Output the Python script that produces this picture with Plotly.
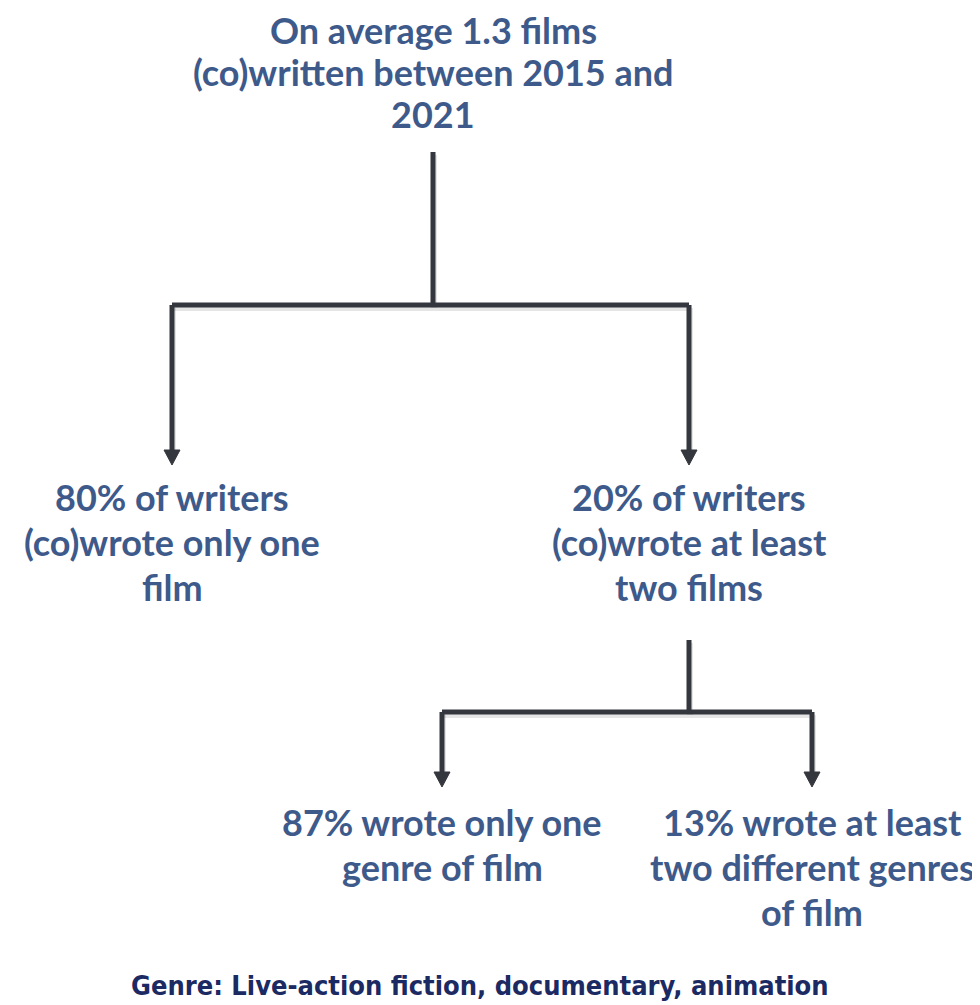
import plotly.graph_objects as go

# node texts (one entry per node, lines split for exact placement)
root_lines = ["On average 1.3 films", "(co)written between 2015 and", "2021"]
level1_labels = [
    ["80% of writers", "(co)wrote only one", "film"],
    ["20% of writers", "(co)wrote at least", "two films"],
]
level2_labels = [
    ["87% wrote only one", "genre of film"],
    ["13% wrote at least", "two different genres", "of film"],
]
footer_text = "Genre: Live-action fiction, documentary, animation"

# layout (pixels, y down); page body has an 8px margin, so shift the ranges
W, H = 980, 1005
OFF = 8
TEXT_COLOR = "#3d5a8b"
LINE_COLOR = "#35373e"
FONT = "Lato, 'Open Sans', sans-serif"
FS = 36
LH = 45

root_x, root_y0 = 433, 30
l1_x = [172, 689]
l1_y0 = 497
l2_x = [442, 812]
l2_y0 = 822

fig = go.Figure()
shapes = []
annotations = []


def add_lines(x, y0, lines, lh=LH):
    for i, t in enumerate(lines):
        annotations.append(dict(
            x=x, y=y0 + i * lh, text=f"<b>{t}</b>", showarrow=False,
            xanchor="center", yanchor="middle",
            font=dict(family=FONT, size=FS, color=TEXT_COLOR),
        ))


def seg(x0, y0, x1, y1):
    # soft shadow then the line
    shapes.append(dict(type="line", x0=x0 + 1, y0=y0 + 3, x1=x1 + 1, y1=y1 + 3,
                       line=dict(color="rgba(0,0,0,0.10)", width=6)))
    shapes.append(dict(type="line", x0=x0, y0=y0, x1=x1, y1=y1,
                       line=dict(color=LINE_COLOR, width=5)))


def arrow_head(x, tip):
    shapes.append(dict(type="path",
                       path=f"M {x-8},{tip-15} L {x+8},{tip-15} L {x},{tip} Z",
                       fillcolor=LINE_COLOR, line=dict(color=LINE_COLOR, width=1)))


def branch(px, top, mid, xs, tip):
    seg(px, top, px, mid)
    seg(xs[0], mid, xs[1], mid)
    for x in xs:
        seg(x, mid, x, tip - 12)
        arrow_head(x, tip)


add_lines(root_x, root_y0, root_lines, lh=42)
for x, lines in zip(l1_x, level1_labels):
    add_lines(x, l1_y0, lines)
for x, lines in zip(l2_x, level2_labels):
    add_lines(x, l2_y0, lines)

branch(root_x, 152, 305, l1_x, 465)
branch(l1_x[1], 640, 712, l2_x, 787)

annotations.append(dict(
    x=480, y=985, text=f"<b>{footer_text}</b>", showarrow=False,
    xanchor="center", yanchor="middle",
    font=dict(family="'Liberation Sans Narrow', 'DejaVu Sans Condensed', sans-serif",
              size=27, color="#1b2a63"),
))

fig.update_layout(
    width=W, height=H,
    margin=dict(l=0, r=0, t=0, b=0),
    paper_bgcolor="white", plot_bgcolor="white",
    xaxis=dict(range=[OFF, W + OFF], visible=False, fixedrange=True),
    yaxis=dict(range=[H + OFF, OFF], visible=False, fixedrange=True),
    shapes=shapes, annotations=annotations,
    showlegend=False,
)

fig.write_html("out.html")
